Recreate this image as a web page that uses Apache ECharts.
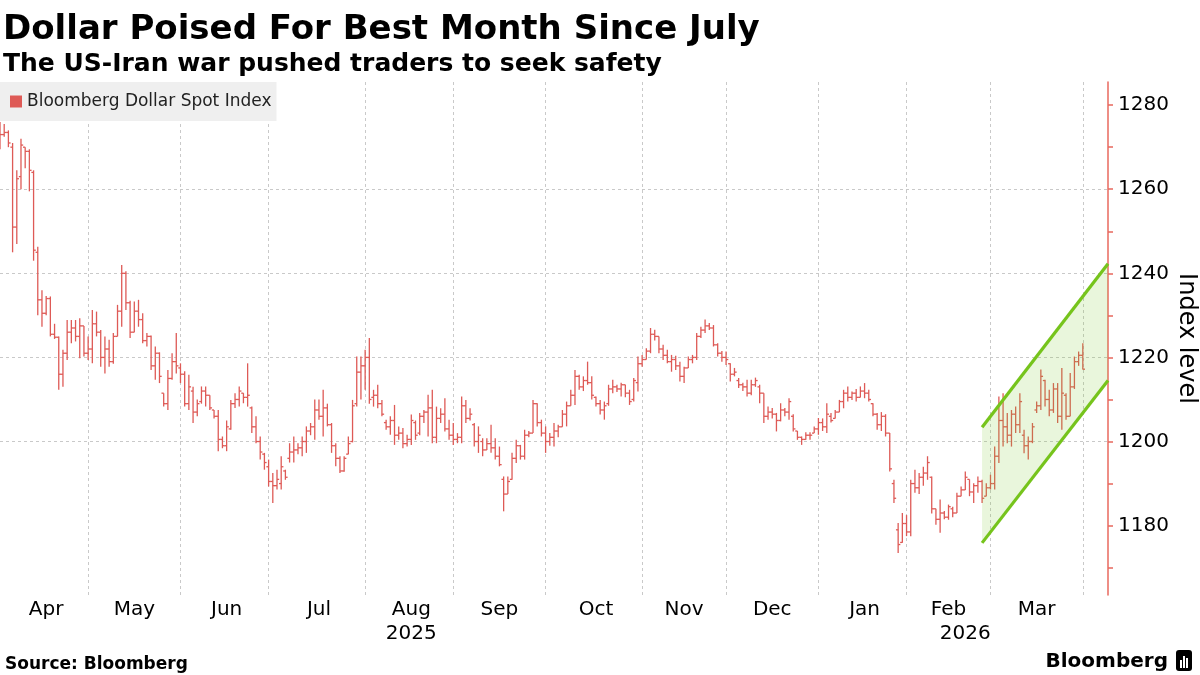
<!DOCTYPE html>
<html>
<head>
<meta charset="utf-8">
<script src="https://cdn.jsdelivr.net/npm/echarts@6/dist/echarts.min.js"></script>
<style>html,body{margin:0;padding:0;background:#fff}#c{width:1200px;height:675px}</style>
</head>
<body>
<div id="c"></div>
<script>
// ---------------- data ----------------
const firstDay = '2025-04-01';
const holidays = ['2025-04-18', '2025-12-25', '2026-01-01'];
const axisDays = 265; // trading days shown on the axis (data + empty room at right)

const open = [
1275,1273,1273.5,1270,1251,1263,1270,1269,1264,1245,
1233.7,1230.5,1234,1225.5,1224.8,1216,1221,1226,1227,1225,
1227.5,1221,1222,1228,1226,1220,1222,1219,1225,1231,
1240,1233,1226,1231,1229,1224,1225,1218,1221,1211.5,
1209,1215,1219,1217.5,1216,1209,1212,1207,1209.5,1212,
1211,1207.5,1206,1200.5,1199,1203,1209,1210,1211.5,1210.5,
1208,1203.5,1200,1197,1194,1190.5,1189.5,1190,1193,1196,
1197.5,1198,1198.5,1200,1202.5,1203.5,1207.5,1206,1208,1204,
1199,1196,1193,1197,1200,1209,1216.5,1218,1220,1210.5,
1211,1209,1204.5,1203.5,1205,1201.5,1202,1199.5,1200.5,1204.5,
1202,1206,1207,1208,1201,1205.5,1206.5,1203,1201.5,1200.5,
1201,1208.5,1205.5,1204,1200,1200,1198,1199.5,1198.5,1196.5,
1191,1187.5,1191,1196,1199,1196.5,1201.5,1202,1209,1204.5,
1202,1200,1201,1202.5,1203.5,1206.5,1208.5,1211,1215.5,1213,
1214.5,1214,1210.5,1209,1207.5,1209,1212.5,1213,1212.5,1213.5,
1211.5,1210,1214,1218.5,1219.5,1221.5,1225.5,1225,1222,1220.5,
1219,1219.5,1218,1215.5,1217.5,1219.5,1220,1225,1226.5,1227.5,
1227,1223,1221,1220,1218.5,1216,1214.5,1213.5,1213,1211.5,
1213.5,1213,1211.5,1206,1207,1206.5,1205,1207.5,1207,1206,
1202.5,1201,1200.5,1201.5,1202,1203,1204.5,1203.5,1206,1205.5,
1207,1209.5,1211.5,1210.5,1211.5,1210.5,1212,1211.5,1209,1206.5,
1204,1206,1202,1190,1179,1176,1180.5,1178.5,1190,1189,
1191.5,1192.5,1191.5,1184,1181.5,1183,1182,1184,1183,1187,
1188.5,1191,1188,1189.5,1190.5,1187,1189,1190,1196.5,1205,
1203.5,1201.5,1206.5,1204,1201.5,1199,1200,1207.5,1208.5,1214.5,
1210,1207.5,1212.5,1206,1211,1206,1213,1219,1220.5
];
const high = [
1276,1275.5,1274,1271,1264.5,1272,1270,1269.5,1264.5,1246.3,
1236,1234.6,1234.5,1228,1225,1221.8,1228.9,1228.9,1228.9,1229.3,
1227.5,1225,1231.3,1230.9,1226.5,1225,1224.2,1225.8,1232.5,1242,
1240.5,1233.5,1233.3,1233.7,1230.5,1225.8,1225.2,1222.6,1221.2,1211.5,
1217,1221,1225.8,1218.6,1216.7,1215.9,1213,1210,1213.1,1213.1,
1211,1207.5,1207.5,1201.2,1205,1209.9,1211.5,1213.1,1211.5,1218.6,
1208.3,1206,1201.2,1197.3,1195.7,1192.5,1193.3,1196.5,1193.3,1199.6,
1201.2,1199.6,1201.2,1203.6,1204.4,1210,1210,1212.3,1209,1204.4,
1199.6,1196.5,1196.5,1201.2,1209.9,1220.2,1220.2,1221.8,1224.6,1212.3,
1213.5,1209.9,1205.2,1206,1208.7,1203.6,1203.2,1201.6,1206.4,1205,
1206.8,1207.5,1211.1,1212.3,1208.3,1207.9,1210.3,1205.2,1204.4,1202,
1210.7,1209.9,1207.9,1204.4,1203.6,1200.8,1200.8,1204,1200.8,1198.8,
1191.7,1191.7,1197.3,1200.4,1199.2,1202.8,1202.5,1209.9,1209.1,1205.2,
1203.6,1202,1204.4,1204,1207.5,1209.5,1212.3,1217,1215.9,1215.5,
1219,1215.5,1210.7,1209.9,1209.5,1213.5,1214.7,1213.5,1214,1213.5,
1212.3,1215.1,1220.2,1220.6,1222.2,1227,1226.6,1225,1223,1221.8,
1220.6,1220.4,1219,1217.8,1220.2,1220.6,1225.8,1227.3,1229,1228.2,
1227.7,1223.4,1221.5,1221.4,1218.6,1217.5,1215.1,1214,1214.7,1214.7,
1215.2,1213.5,1211.5,1208.3,1208,1206.8,1209.1,1208,1210.3,1206.5,
1202.5,1201.2,1202.2,1202.2,1203.6,1205.6,1205.5,1209.1,1206.8,1207.5,
1209.9,1212.3,1213.1,1211.9,1212.5,1213.1,1213.9,1212.3,1209.1,1206.8,
1207,1206.5,1202,1190.9,1180.6,1183,1182.5,1190.9,1193.3,1192.5,
1194,1196.5,1191.7,1184,1186.2,1183.5,1185,1184.5,1187.8,1189.3,
1192.9,1191,1190.1,1191.7,1190.9,1190.1,1192.1,1198.8,1210.7,1211.5,
1206.8,1207.5,1208.3,1211.5,1202.8,1201.2,1204.4,1209.5,1217.1,1214.7,
1212.3,1213.9,1213.9,1217.5,1211.5,1216.3,1220.2,1221.4,1223.4
];
const low = [
1269.5,1272.5,1270,1245,1247,1260,1265,1259.5,1243,1230,
1227.3,1230,1225,1224.4,1212.3,1213,1219.4,1223.4,1223.8,1219.8,
1220.2,1219.4,1218.6,1225,1217.8,1216.2,1217.8,1218.5,1225,1227.3,
1231.3,1224.6,1226,1227.3,1223.4,1222.6,1217,1214.7,1213.9,1208.3,
1207.5,1214.7,1216.2,1213.9,1208.3,1207.5,1204.4,1206,1209,1208.3,
1207.5,1205.5,1197.7,1198.4,1197.7,1202.8,1208,1208.3,1209.1,1208.3,
1202,1199.6,1195.7,1193.3,1189.3,1185.4,1188.6,1188.6,1190.9,1195,
1195,1197,1196.5,1197.3,1201.5,1200.4,1205.2,1201.2,1203.6,1197.3,
1194.1,1192.5,1192.8,1197,1199.8,1208.3,1210,1212.3,1209,1208.3,
1207.9,1206,1202.8,1201.6,1199.2,1200.4,1198.4,1198.8,1199.2,1200.4,
1201.5,1204.4,1201.2,1199.6,1199.6,1204.4,1202.4,1200.4,1199.2,1199.6,
1199.6,1204.4,1205,1198.8,1197.3,1196.5,1198,1197.3,1195.7,1194.1,
1183.4,1187.5,1190.9,1194.9,1195.7,1195.7,1201,1202,1203.6,1201.2,
1197.3,1199,1198.8,1201,1203.5,1203.6,1208.5,1208.7,1212.3,1212,
1213.5,1210,1208.3,1206.4,1205.2,1208.5,1211.5,1211.8,1210.7,1210.5,
1208.7,1209.5,1211.9,1217.8,1219.5,1221,1224,1221,1219.4,1218.6,
1216.6,1217,1214.3,1213.9,1217.5,1218.6,1219.4,1224.6,1225.8,1226.5,
1222.6,1220.2,1219,1218.2,1214.3,1215.5,1212.7,1212,1210.7,1211,
1213,1209.1,1204.4,1205.2,1205.5,1202.4,1204.8,1206,1205.2,1202.4,
1200.4,1199.2,1200.4,1200.4,1202,1201.6,1202.5,1202,1204.5,1205.5,
1207,1207.9,1209.5,1209.9,1209.5,1210.5,1210.3,1209.5,1206,1202.8,
1202.5,1201.2,1192.9,1185.4,1173.5,1175.9,1177.5,1177.5,1187.8,1187.5,
1189.5,1190.9,1182.9,1180.2,1178.3,1181.5,1181.4,1182,1183,1187,
1188.5,1187,1185.4,1187.8,1185.4,1187,1188.6,1188.6,1194.9,1198.8,
1199.6,1198.8,1202,1202,1197.2,1195.7,1199.6,1206.8,1207.5,1208.3,
1206,1206.8,1204.4,1202.8,1205.2,1206,1212.5,1218,1217.1
];
const close = [
1273,1273.5,1271,1251,1262.5,1270.5,1269,1264.5,1245.5,1233.7,
1230.5,1234,1225.5,1224.8,1216,1221,1226,1227,1225,1227.5,
1221,1222,1228,1226,1220,1222,1219,1225,1231,1240,
1233,1226,1231,1229,1224,1225,1218,1221,1215.5,1209,
1215,1219,1218,1216,1209,1213,1207,1209,1212,1211,
1208,1206,1200.5,1199,1203.5,1209,1210,1212,1210.5,1211,
1203.5,1200,1197.5,1195,1190.5,1189.5,1191,1194,1191.5,1197.5,
1198,1198.5,1200,1202.5,1203.5,1207.5,1206,1208,1204,1199,
1196,1193,1196,1199.5,1208.5,1216.5,1218,1220,1210,1211,
1209,1206.5,1203.5,1205,1201.5,1202,1199.5,1200.5,1205,1201.5,
1206,1207,1208,1201,1205.5,1206.5,1203,1201.5,1200.5,1201,
1208.5,1205.5,1206.5,1200,1201.5,1198,1199.5,1198.5,1196.5,1194.5,
1187.5,1190.5,1196,1199,1196.5,1201.5,1202,1209,1204.5,1202,
1200,1201,1202.5,1203.5,1206.5,1208.5,1211,1215.5,1213,1214.5,
1214,1211,1209,1207.5,1208.5,1212.5,1213,1212.5,1213.5,1211.5,
1209.5,1214.5,1218.5,1219.5,1221.5,1225.5,1225,1222,1220.5,1219,
1219.5,1218,1215.5,1217.5,1219.5,1220,1225,1226.5,1227.5,1227,
1223,1221,1220,1219.5,1216,1216.5,1213.5,1213,1211.5,1213.5,
1214.5,1211.5,1206,1207,1206.5,1205,1207.5,1207,1209.5,1203,
1201,1200.5,1201.5,1201.5,1203,1204.5,1203.5,1206.5,1205,1207,
1209.5,1211.5,1210.5,1211.5,1210.5,1212,1211.5,1210,1206.5,1204,
1206,1202,1193.5,1186.5,1175.5,1180.5,1178.5,1190,1189,1191.5,
1192.5,1195,1184,1181.5,1183,1182,1184.5,1183,1187,1188.5,
1191.5,1188,1189.5,1190.5,1186.5,1189,1190,1196.5,1205,1203.5,
1201.5,1206.5,1204,1209.5,1199,1200,1203.5,1208.5,1215.5,1210,
1207.5,1212.5,1206,1211.5,1206,1213,1219,1220.5,1217.2
];

// rising channel drawn on the chart (dates and index levels)
const channelDates = ['2026-02-26', '2026-04-09'];
const channelLower = [1175.9, 1214.5];
const channelUpper = [1203.4, 1242.3];

const yLabelValues = [1180, 1200, 1220, 1240, 1260, 1280];
const yMinorTickValues = [1170, 1190, 1210, 1230, 1250, 1270];
const monthNames = ['Jan','Feb','Mar','Apr','May','Jun','Jul','Aug','Sep','Oct','Nov','Dec'];
const seriesName = 'Bloomberg Dollar Spot Index';

// ---------------- build trading-day categories ----------------
const dates = [];
(function () {
  const d = new Date(firstDay + 'T00:00:00Z');
  while (dates.length < axisDays) {
    const dow = d.getUTCDay();
    const s = d.toISOString().slice(0, 10);
    if (dow !== 0 && dow !== 6 && holidays.indexOf(s) < 0) dates.push(s);
    d.setUTCDate(d.getUTCDate() + 1);
  }
})();

const monthStarts = [];
dates.forEach((s, i) => { if (i === 0 || s.slice(0, 7) !== dates[i - 1].slice(0, 7)) monthStarts.push(i); });
const splitSet = new Set(monthStarts.filter(i => i > 0));
const monthMid = new Set();
for (let k = 0; k + 1 < monthStarts.length; k++) monthMid.add(Math.round((monthStarts[k] + monthStarts[k + 1]) / 2));
const yearMid = new Set();
(function () {
  const yStarts = [];
  dates.forEach((s, i) => { if (i === 0 || s.slice(0, 4) !== dates[i - 1].slice(0, 4)) yStarts.push(i); });
  yStarts.push(dates.length - 1);
  for (let k = 0; k + 1 < yStarts.length; k++) yearMid.add(Math.round((yStarts[k] + yStarts[k + 1]) / 2));
})();

const ohlcData = open.map((o, i) => [i, o, high[i], low[i], close[i]]);
const chIdx = channelDates.map(s => dates.indexOf(s));
const channelData = [[chIdx[0], channelLower[0], channelUpper[0], chIdx[1], channelLower[1], channelUpper[1]]];

// ---------------- chart ----------------
const FONT = "'DejaVu Sans', 'Verdana', sans-serif";
const BAR = '#de5a56';
const AXIS_RED = '#e8685e';
const GRID = '#c9c9c9';
const Y_MIN = 1163.5, Y_MAX = 1285.5;

const chart = echarts.init(document.getElementById('c'), null, { renderer: 'canvas' });
chart.setOption({
  animation: false,
  backgroundColor: '#fff',
  textStyle: { fontFamily: FONT, color: '#000' },
  title: [
    {
      text: 'Dollar Poised For Best Month Since July',
      subtext: 'The US-Iran war pushed traders to seek safety',
      left: -2, top: 8, itemGap: 5,
      textStyle: { fontFamily: FONT, fontSize: 34, fontWeight: 'bold', color: '#000' },
      subtextStyle: { fontFamily: FONT, fontSize: 25, fontWeight: 'bold', color: '#000' }
    },
    {
      text: 'Source: Bloomberg', left: 0, top: 651,
      textStyle: { fontFamily: FONT, fontSize: 17, fontWeight: 'bold', color: '#000' }
    },
    {
      text: 'Bloomberg', right: 27, top: 647,
      textStyle: { fontFamily: FONT, fontSize: 20, fontWeight: 'bold', color: '#000' }
    }
  ],
  graphic: [{
    type: 'group', right: 8, top: 650,
    children: [
      { type: 'rect', shape: { x: 0, y: 0, width: 16, height: 21, r: 3 }, style: { fill: '#000' } },
      { type: 'rect', shape: { x: 4, y: 10, width: 2, height: 8 }, style: { fill: '#fff' } },
      { type: 'rect', shape: { x: 7, y: 6, width: 2, height: 12 }, style: { fill: '#fff' } },
      { type: 'rect', shape: { x: 10, y: 8, width: 2, height: 10 }, style: { fill: '#fff' } }
    ]
  }],
  legend: {
    data: [{ name: seriesName, icon: 'rect' }],
    left: 0, top: 82,
    backgroundColor: '#efefef',
    padding: [11, 5, 11, 10],
    itemWidth: 12, itemHeight: 12,
    textStyle: { fontFamily: FONT, fontSize: 17, color: '#222' },
    selectedMode: false
  },
  grid: { left: 0, right: 92, top: 82, bottom: 80, containLabel: false, outerBoundsMode: 'none' },
  xAxis: [
    {
      type: 'category', data: dates, boundaryGap: false,
      axisLine: { show: false }, axisTick: { show: false },
      axisLabel: {
        interval: (i) => monthMid.has(i),
        formatter: (v) => monthNames[parseInt(v.slice(5, 7), 10) - 1],
        fontFamily: FONT, fontSize: 20, color: '#000', margin: 5
      },
      splitLine: { show: true, interval: (i) => splitSet.has(i), lineStyle: { type: [3, 3], color: GRID, width: 1 } }
    },
    {
      type: 'category', data: dates, boundaryGap: false, position: 'bottom', offset: 24,
      axisLine: { show: false }, axisTick: { show: false }, splitLine: { show: false },
      axisLabel: {
        interval: (i) => yearMid.has(i),
        formatter: (v) => v.slice(0, 4),
        fontFamily: FONT, fontSize: 20, color: '#000', margin: 5
      }
    }
  ],
  yAxis: [
    {
      type: 'value', position: 'right',
      min: Y_MIN, max: Y_MAX, splitNumber: 6, minInterval: 20, maxInterval: 20,
      axisLine: { show: true, lineStyle: { color: AXIS_RED, width: 1.5 } },
      axisTick: { show: true, length: 5, customValues: yLabelValues, lineStyle: { color: AXIS_RED, width: 1.5 } },
      axisLabel: { customValues: yLabelValues, formatter: (v) => String(v), fontFamily: FONT, fontSize: 20, color: '#000', margin: 10 },
      splitLine: { show: true, showMinLine: false, showMaxLine: false, lineStyle: { type: [3, 3], color: GRID, width: 1 } },
      name: 'Index level', nameLocation: 'middle', nameRotate: -90, nameGap: 78, nameMoveOverlap: false,
      nameTextStyle: { fontFamily: FONT, fontSize: 24, color: '#000', align: 'center', verticalAlign: 'middle' }
    },
    {
      type: 'value', position: 'right',
      min: Y_MIN, max: Y_MAX,
      axisLine: { show: false },
      axisTick: { show: true, length: 5, customValues: yMinorTickValues, lineStyle: { color: AXIS_RED, width: 1.5 } },
      axisLabel: { show: false },
      splitLine: { show: false }
    }
  ],
  series: [
    {
      name: seriesName,
      type: 'custom',
      color: BAR,
      itemStyle: { color: BAR },
      encode: { x: 0, y: [1, 2, 3, 4] },
      data: ohlcData,
      renderItem: function (params, api) {
        const i = api.value(0);
        const pH = api.coord([i, api.value(2)]);
        const pL = api.coord([i, api.value(3)]);
        const pO = api.coord([i, api.value(1)]);
        const pC = api.coord([i, api.value(4)]);
        const st = { stroke: BAR, lineWidth: 1.3 };
        return {
          type: 'group',
          children: [
            { type: 'line', shape: { x1: pH[0], y1: pH[1], x2: pL[0], y2: pL[1] }, style: st },
            { type: 'line', shape: { x1: pO[0] - 2.2, y1: pO[1], x2: pO[0], y2: pO[1] }, style: st },
            { type: 'line', shape: { x1: pC[0], y1: pC[1], x2: pC[0] + 2.2, y2: pC[1] }, style: st }
          ]
        };
      }
    },
    {
      name: 'channel',
      type: 'custom',
      encode: { x: [0, 3], y: [1, 2, 4, 5] },
      data: channelData,
      z: 5,
      renderItem: function (params, api) {
        const a0 = api.coord([api.value(0), api.value(1)]);
        const b0 = api.coord([api.value(0), api.value(2)]);
        const a1 = api.coord([api.value(3), api.value(4)]);
        const b1 = api.coord([api.value(3), api.value(5)]);
        const ls = { stroke: '#76c41c', lineWidth: 3.2, lineCap: 'butt' };
        return {
          type: 'group',
          children: [
            { type: 'polygon', shape: { points: [a0, a1, b1, b0] }, style: { fill: 'rgba(125,200,45,0.17)' } },
            { type: 'line', shape: { x1: a0[0], y1: a0[1], x2: a1[0], y2: a1[1] }, style: ls },
            { type: 'line', shape: { x1: b0[0], y1: b0[1], x2: b1[0], y2: b1[1] }, style: ls }
          ]
        };
      }
    }
  ]
});
</script>
</body>
</html>
